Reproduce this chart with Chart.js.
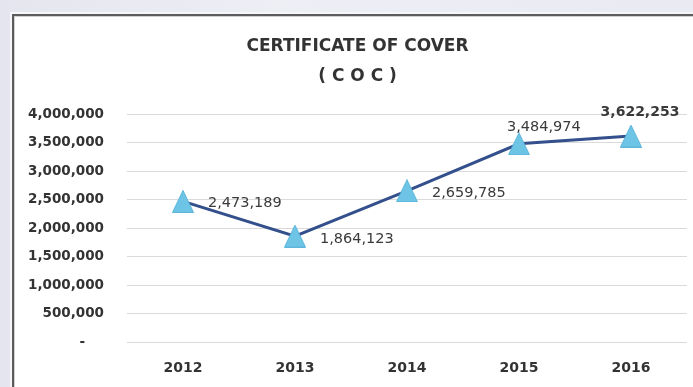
<!DOCTYPE html>
<html>
<head>
<meta charset="utf-8">
<script src="https://cdn.jsdelivr.net/npm/chart.js@4"></script>
<style>
  html, body { margin: 0; padding: 0; }
  body {
    width: 693px; height: 387px; overflow: hidden; position: relative;
    background: linear-gradient(90deg, #e4e5ee 0%, #eeeff5 40%, #e9eaf2 100%);
  }
  .box {
    position: absolute; left: 12px; top: 14px; width: 720px; height: 400px;
    background: #fff; border: 2px solid #5c5c5c;
    box-shadow: 0 0 0 2px #f6f6fa, inset 0 0 0 1px #cfcfcf;
  }
  canvas { position: absolute; left: 0; top: 0; }
</style>
</head>
<body>
<div class="box"></div>
<canvas id="chart" width="693" height="387"></canvas>
<script>
const years = ['2012', '2013', '2014', '2015', '2016'];
const cocValues = [2473189, 1864123, 2659785, 3484974, 3622253];
const titleLines = ['CERTIFICATE OF COVER', '( C O C )'];

// label placement next to each point: [dx, dy, align, bold]
const labelPlacement = [
  [25, 2, 'left', false],
  [25, 3, 'left', false],
  [25, 2, 'left', false],
  [-12, -17, 'left', false],
  [9, -24, 'center', true],
];

// Excel-style marker: a slightly tall triangle
function makeTriangle() {
  const c = document.createElement('canvas');
  c.width = 22;
  c.height = 23;
  const g = c.getContext('2d');
  g.beginPath();
  g.moveTo(11, 0.5);
  g.lineTo(21.5, 22.5);
  g.lineTo(0.5, 22.5);
  g.closePath();
  g.fillStyle = '#6ec4e4';
  g.fill();
  g.strokeStyle = '#5cb6dc';
  g.lineWidth = 1;
  g.stroke();
  return c;
}

const valueLabels = {
  id: 'valueLabels',
  afterDatasetsDraw(chart) {
    const ctx = chart.ctx;
    const meta = chart.getDatasetMeta(0);
    ctx.save();
    ctx.fillStyle = '#3a3a3a';
    ctx.textBaseline = 'middle';
    meta.data.forEach((pt, i) => {
      const [dx, dy, align, bold] = labelPlacement[i];
      ctx.font = (bold ? 'bold 14px' : '14.5px') + ' "DejaVu Sans"';
      ctx.textAlign = align;
      ctx.fillText(cocValues[i].toLocaleString('en-US'), pt.x + dx, pt.y + dy);
    });
    ctx.restore();
  }
};

new Chart(document.getElementById('chart'), {
  type: 'line',
  data: {
    labels: years,
    datasets: [{
      data: cocValues,
      borderColor: '#33508c',
      borderWidth: 3,
      pointStyle: makeTriangle(),
      pointRadius: 12,
      tension: 0,
    }],
  },
  options: {
    responsive: false,
    animation: false,
    layout: { autoPadding: false, padding: { left: 28, right: 6, top: 0, bottom: 0 } },
    plugins: {
      legend: { display: false },
      tooltip: { enabled: false },
      title: {
        display: true,
        text: titleLines,
        color: '#333',
        font: { family: 'DejaVu Sans', size: 17, weight: 'bold', lineHeight: 1.75 },
        padding: { top: 32, bottom: 23 },
      },
    },
    scales: {
      x: {
        offset: true,
        grid: { display: false },
        border: { display: false },
        ticks: {
          color: '#333',
          padding: 10,
          font: { family: 'DejaVu Sans', size: 14, weight: 'bold' },
        },
      },
      y: {
        min: 0,
        max: 4000000,
        afterFit(scale) { scale.width = 99; },
        grid: { color: '#dadada', drawTicks: false },
        border: { display: false },
        ticks: {
          stepSize: 500000,
          padding: 23,
          color: '#333',
          font: { family: 'DejaVu Sans', size: 13.5, weight: 'bold' },
          callback: (v) => (v === 0 ? '-    ' : v.toLocaleString('en-US')),
        },
      },
    },
  },
  plugins: [valueLabels],
});
</script>
</body>
</html>
